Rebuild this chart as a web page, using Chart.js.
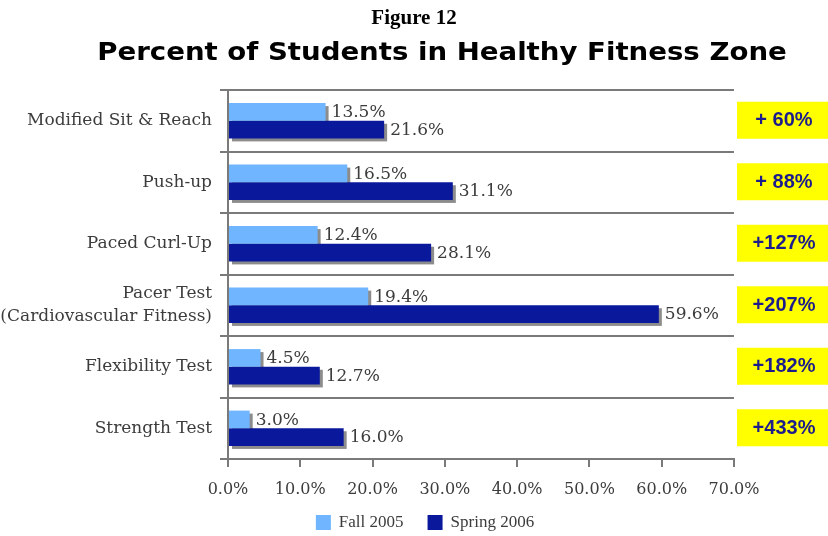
<!DOCTYPE html>
<html>
<head>
<meta charset="utf-8">
<script src="https://cdn.jsdelivr.net/npm/chart.js@4.4.0/dist/chart.umd.min.js"></script>
<style>
  body { margin: 0; background: #fff; }
  #wrap { width: 828px; height: 536px; }
</style>
</head>
<body>
<div id="wrap"><canvas id="fitnessChart" width="828" height="536"></canvas></div>
<script>
// data
const categories = [
  "Modified Sit & Reach",
  "Push-up",
  "Paced Curl-Up",
  ["Pacer Test", "(Cardiovascular Fitness)"],
  "Flexibility Test",
  "Strength Test",
];
const fall2005 = [13.5, 16.5, 12.4, 19.4, 4.5, 3.0];
const spring2006 = [21.6, 31.1, 28.1, 59.6, 12.7, 16.0];
const increaseLabels = ["+ 60%", "+ 88%", "+127%", "+207%", "+182%", "+433%"];
const seriesNames = ["Fall 2005", "Spring 2006"];
const xTicks = [0, 10, 20, 30, 40, 50, 60, 70];

const figureTitle = "Figure 12";
const chartTitle = "Percent of Students in Healthy Fitness Zone";

const fallColor = "#6fb5ff";
const springColor = "#0a189c";
const shadowColor = "#8c8c8c";
const lineColor = "#7a7a7a";
const textColor = "#3c3c3c";
const serif = "'Liberation Serif', 'Times New Roman', serif";
const wideSerif = "'DejaVu Serif', serif";

// draws bar shadows, value labels, titles, yellow boxes and legend
const extrasPlugin = {
  id: "extras",
  beforeDatasetsDraw(chart) {
    const ctx = chart.ctx;
    ctx.save();
    ctx.fillStyle = shadowColor;
    chart.data.datasets.forEach((ds, i) => {
      chart.getDatasetMeta(i).data.forEach((bar) => {
        const top = bar.y - bar.height / 2;
        ctx.fillRect(bar.base + 3, top + 3, bar.x - bar.base, bar.height);
      });
    });
    ctx.restore();
  },
  afterDatasetsDraw(chart) {
    const ctx = chart.ctx;
    ctx.save();
    ctx.font = "17px " + wideSerif;
    ctx.fillStyle = textColor;
    ctx.textAlign = "left";
    ctx.textBaseline = "middle";
    chart.data.datasets.forEach((ds, i) => {
      chart.getDatasetMeta(i).data.forEach((bar, j) => {
        ctx.fillText(ds.data[j].toFixed(1) + "%", bar.x + 6, bar.y + 1);
      });
    });
    ctx.restore();
  },
  afterDraw(chart) {
    const ctx = chart.ctx;
    const yScale = chart.scales.y;
    ctx.save();

    // titles
    ctx.textAlign = "center";
    ctx.textBaseline = "middle";
    ctx.fillStyle = "#000";
    ctx.font = "bold 21px " + serif;
    ctx.fillText(figureTitle, 414, 19);
    // subtitle is a bit wider than DejaVu Sans Bold, so stretch it
    ctx.save();
    ctx.font = "bold 24px 'DejaVu Sans', Verdana, sans-serif";
    ctx.translate(442, 54);
    ctx.scale(1.15, 1);
    ctx.fillText(chartTitle, 0, 0);
    ctx.restore();

    // yellow change boxes
    increaseLabels.forEach((txt, i) => {
      const cy = yScale.getPixelForValue(i);
      ctx.fillStyle = "#ffff00";
      ctx.fillRect(737, cy - 19, 91, 37);
      ctx.fillStyle = "#1c1c8c";
      ctx.font = "bold 20px 'Liberation Sans', Arial, sans-serif";
      ctx.fillText(txt, 784, cy);
    });

    // legend
    ctx.font = "17px " + serif;
    ctx.textAlign = "left";
    const box = 15;
    const gap = 8;
    const spacing = 24;
    const items = chart.data.datasets.map((ds) => ({
      label: ds.label,
      color: ds.backgroundColor,
      w: box + gap + ctx.measureText(ds.label).width,
    }));
    const total = items.reduce((s, it) => s + it.w, 0) + spacing * (items.length - 1);
    let x = 425 - total / 2;
    const ly = 522;
    items.forEach((it) => {
      ctx.fillStyle = it.color;
      ctx.fillRect(x, ly - 7, box, box);
      ctx.fillStyle = textColor;
      ctx.fillText(it.label, x + box + gap, ly + 1);
      x += it.w + spacing;
    });

    ctx.restore();
  },
};

const chartConfig = {
  type: "bar",
  data: {
    labels: categories,
    datasets: [
      {
        label: seriesNames[0],
        data: fall2005,
        backgroundColor: fallColor,
        borderWidth: 0,
      },
      {
        label: seriesNames[1],
        data: spring2006,
        backgroundColor: springColor,
        borderWidth: 0,
      },
    ],
  },
  options: {
    indexAxis: "y",
    responsive: false,
    animation: false,
    layout: {
      padding: { top: 90, right: 94, bottom: 0, left: 0 },
    },
    datasets: {
      bar: { categoryPercentage: 0.574, barPercentage: 1.0 },
    },
    plugins: {
      legend: { display: false },
      tooltip: { enabled: false },
    },
    scales: {
      x: {
        min: 0,
        max: 70,
        afterBuildTicks: (scale) => {
          scale.ticks = xTicks.map((v) => ({ value: v }));
        },
        afterFit: (scale) => {
          scale.height = 77;
        },
        border: { display: true, color: lineColor, width: 2 },
        grid: {
          drawOnChartArea: false,
          drawTicks: true,
          tickLength: 8,
          color: lineColor,
          lineWidth: 2,
        },
        ticks: {
          padding: 13,
          color: textColor,
          font: { family: wideSerif, size: 16 },
          callback: (v) => Number(v).toFixed(1) + "%",
        },
      },
      y: {
        afterFit: (scale) => {
          scale.width = 228;
        },
        border: { display: true, color: lineColor, width: 2 },
        grid: {
          offset: true,
          color: lineColor,
          lineWidth: 2,
          tickLength: 8,
        },
        ticks: {
          padding: 8,
          color: textColor,
          font: { family: wideSerif, size: 17, lineHeight: 1.35 },
        },
      },
    },
  },
  plugins: [extrasPlugin],
};

const canvas = document.getElementById("fitnessChart");
new Chart(canvas, chartConfig);
</script>
</body>
</html>
